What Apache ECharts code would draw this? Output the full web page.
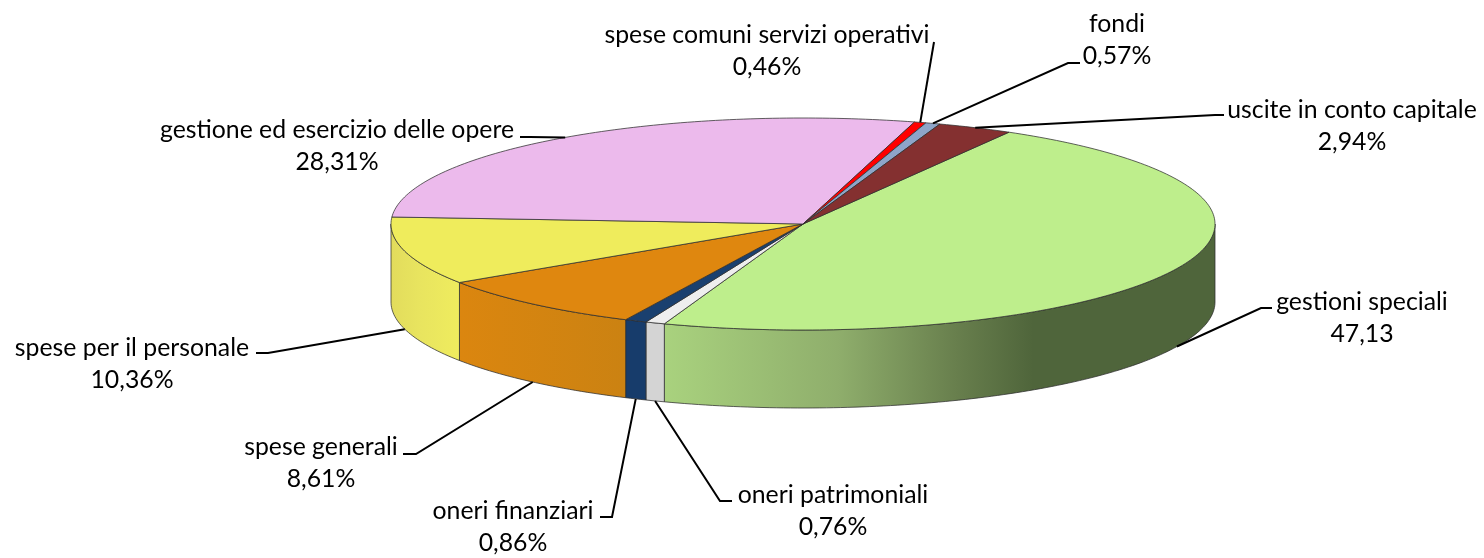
<!DOCTYPE html>
<html><head><meta charset="utf-8">
<style>html,body{margin:0;padding:0;background:#fff}#c{width:1484px;height:558px}</style>
<script src="https://cdn.jsdelivr.net/npm/echarts@6/dist/echarts.min.js"></script>
</head><body><div id="c"></div>
<script>
const names = ['gestioni speciali','oneri patrimoniali','oneri finanziari','spese generali','spese per il personale','gestione ed esercizio delle opere','spese comuni servizi operativi','fondi','uscite in conto capitale'];
const values = [47.13,0.76,0.86,8.61,10.36,28.31,0.46,0.57,2.94];
const valueLabels = ['47,13','0,76%','0,86%','8,61%','10,36%','28,31%','0,46%','0,57%','2,94%'];
const topColors = ['#BEEE8C','#EEEEEE','#1A406F','#DF870F','#EFEC5C','#ECBAEC','#FF0000','#8EA5C8','#843030'];
const wallStops = [
  [[0,'#A9D27E'],[0.315,'#8FAE6C'],[0.53,'#687F4D'],[0.67,'#4F653B'],[1,'#4F653B']],
  [[0,'#D4D4D4'],[1,'#D4D4D4']],
  [[0,'#173C6B'],[1,'#173C6B']],
  [[0,'#DB860F'],[1,'#CB8212']],
  [[0,'#E2DC5C'],[0.4,'#E8E45F'],[1,'#EFEC5E']],
  [[0,'#ccc'],[1,'#ccc']],[[0,'#ccc'],[1,'#ccc']],[[0,'#ccc'],[1,'#ccc']],[[0,'#ccc'],[1,'#ccc']]
];
const pie = {cx:803, cy:224, rx:412, ry:106, depth:78, start:30};
// label centre (x, first-line y), leader elbow, leader end
const labelPos = [[1362,302],[833,495],[513,511],[321,447],[132,348],[337,130],[767,35],[1117,24],[1352,110]];
const leaderMid = [[1261,308],[720,501],[612,517],[416,454],[268,353],[530,137],[934,42],[1068,63],[1215,115]];
const leaderEnd = [[1272,308],[732,501],[600,517],[403,454],[256,353],[520,137],[934,42],[1080,63],[1224,115]];
const fontFamily = 'Lato, Carlito, sans-serif';
const fontSize = 24.8;

const total = values.reduce((a,b)=>a+b,0);
const rad = d => d*Math.PI/180;
const pt = (deg,dy) => [pie.cx + pie.rx*Math.sin(rad(deg)), pie.cy - pie.ry*Math.cos(rad(deg)) + (dy||0)];
function arc(a,b,dy){const n=Math.max(2,Math.ceil(Math.abs(b-a)));const r=[];for(let i=0;i<=n;i++)r.push(pt(a+(b-a)*i/n,dy));return r;}
let acc = pie.start;
const spans = values.map(v=>{const s=[acc,acc+v/total*360];acc=s[1];return s;});

function renderItem(params, api){
  const i = params.dataIndex, [a,b] = spans[i];
  const els = [];
  const stroke = 'rgba(45,45,45,0.75)';
  // wall: only the part of the rim facing the viewer (90..270 degrees)
  const wa = Math.max(a,90), wb = Math.min(b,270);
  if (wb > wa) {
    const top = arc(wa,wb,0), bot = arc(wb,wa,pie.depth);
    const xs = top.map(p=>p[0]);
    const x0 = Math.min(...xs), x1 = Math.max(...xs);
    els.push({type:'polygon', z2:1, shape:{points:top.concat(bot)},
      style:{stroke, lineWidth:1,
        fill:new echarts.graphic.LinearGradient(x0,0,x1,0,
          wallStops[i].map(s=>({offset:s[0],color:s[1]})),true)}});
  }
  els.push({type:'polygon', z2:2, shape:{points:[[pie.cx,pie.cy]].concat(arc(a,b,0))},
    style:{fill:topColors[i], stroke, lineWidth:1}});
  // leader line, anchored on the rim at the slice's mid angle
  const mid = (a+b)/2;
  const norm = ((mid%360)+360)%360;
  const anchor = pt(mid, (norm>90 && norm<270) ? pie.depth : 0);
  els.push({type:'polyline', z2:5, shape:{points:[anchor,leaderMid[i],leaderEnd[i]]},
    style:{fill:'none', stroke:'#000', lineWidth:2}});
  const [lx,ly] = labelPos[i];
  const font = fontSize+'px '+fontFamily;
  els.push({type:'text', z2:6, style:{text:names[i], x:lx, y:ly, align:'center', verticalAlign:'middle', fill:'#000', font}});
  els.push({type:'text', z2:6, style:{text:valueLabels[i], x:lx, y:ly+32, align:'center', verticalAlign:'middle', fill:'#000', font}});
  return {type:'group', children:els};
}

const chart = echarts.init(document.getElementById('c'), null, {renderer:'canvas', width:1484, height:558});
chart.setOption({
  animation:false,
  backgroundColor:'#fff',
  series:[{type:'custom', coordinateSystem:'none', silent:true, renderItem,
    data:values.map((v,i)=>({name:names[i], value:[v,i]}))}]
});
</script></body></html>
